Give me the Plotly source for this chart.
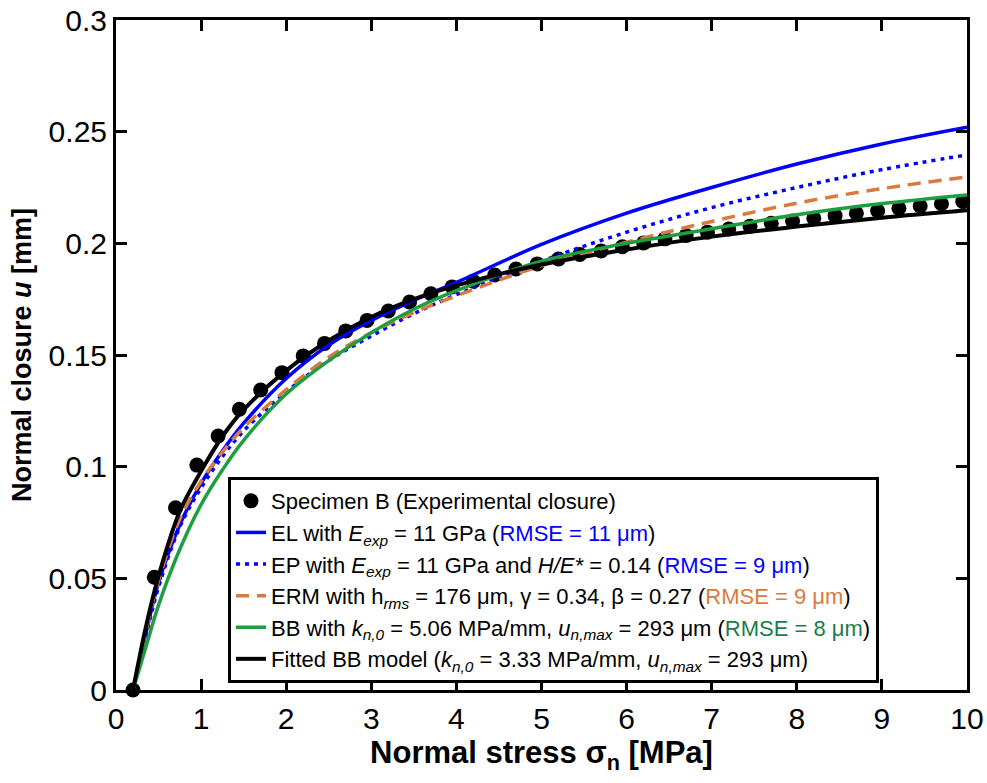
import plotly.graph_objects as go

# ---------------- data ----------------
stress_exp = [0.2, 0.45, 0.7, 0.95, 1.2, 1.45, 1.7, 1.95, 2.2, 2.45,
              2.7, 2.95, 3.2, 3.45, 3.7, 3.95, 4.2, 4.45, 4.7, 4.95,
              5.2, 5.45, 5.7, 5.95, 6.2, 6.45, 6.7, 6.95, 7.2, 7.45,
              7.7, 7.95, 8.2, 8.45, 8.7, 8.95, 9.2, 9.45, 9.7, 9.95]
closure_exp = [0.0, 0.0505, 0.0816, 0.1007, 0.1137, 0.1257, 0.1343, 0.1421, 0.1496, 0.1552,
               0.1608, 0.1655, 0.1697, 0.1737, 0.1774, 0.1805, 0.1830, 0.1858, 0.1885, 0.1908,
               0.1930, 0.1950, 0.1966, 0.1985, 0.2002, 0.2020, 0.2035, 0.2050, 0.2064, 0.2077,
               0.2090, 0.2100, 0.2112, 0.2124, 0.2135, 0.2146, 0.2157, 0.2167, 0.2177, 0.2187]

curve_stress = [0.2, 0.35, 0.5, 0.75, 1.0, 1.25, 1.5, 2.0, 2.5, 3.0, 3.5, 4.0,
                5.0, 6.0, 7.0, 8.0, 9.0, 10.0]
closure_el = [0.0, 0.025, 0.048, 0.0740, 0.0925, 0.1070, 0.1195, 0.1395, 0.1545, 0.1655,
              0.1745, 0.1825, 0.1995, 0.2135, 0.2250, 0.2355, 0.2445, 0.2520]
closure_ep = [0.0, 0.024, 0.046, 0.0730, 0.0905, 0.1045, 0.1160, 0.1335, 0.1475, 0.1585,
              0.1685, 0.1770, 0.1920, 0.2050, 0.2160, 0.2250, 0.2330, 0.2396]
closure_erm = [0.0, 0.026, 0.049, 0.0765, 0.0935, 0.1065, 0.1175, 0.1345, 0.1490, 0.1600,
               0.1690, 0.1765, 0.1900, 0.2005, 0.2098, 0.2180, 0.2245, 0.2297]
closure_bb = [0.0, 0.019, 0.038, 0.0630, 0.0830, 0.0985, 0.1118, 0.1325, 0.1475, 0.1600,
              0.1705, 0.1788, 0.1920, 0.2000, 0.2065, 0.2128, 0.2178, 0.2217]
closure_fit = [0.0, 0.028, 0.051, 0.0800, 0.0980, 0.1135, 0.1255, 0.1430, 0.1565, 0.1670,
               0.1750, 0.1812, 0.1905, 0.1972, 0.2030, 0.2075, 0.2115, 0.2148]

x_ticks = [0, 1, 2, 3, 4, 5, 6, 7, 8, 9, 10]
y_ticks = [0, 0.05, 0.1, 0.15, 0.2, 0.25, 0.3]
y_tick_labels = ["0", "0.05", "0.1", "0.15", "0.2", "0.25", "0.3"]

# ---------------- styling ----------------
BLUE = "#0000FF"
ORANGE = "#D97A40"
GREEN = "#1E9E3E"
GREEN_TXT = "#1A7D46"
FONT = "Liberation Sans, Arial, sans-serif"

names = [
    "Specimen B (Experimental closure)",
    f"EL with <i>E<sub>exp</sub></i> = 11 GPa (<span style='color:{BLUE}'>RMSE = 11 μm</span>)",
    f"EP with <i>E<sub>exp</sub></i> = 11 GPa and <i>H/E*</i> = 0.14 (<span style='color:{BLUE}'>RMSE = 9 μm</span>)",
    f"ERM with h<sub><i>rms</i></sub> = 176 μm, γ = 0.34, β = 0.27 (<span style='color:{ORANGE}'>RMSE = 9 μm</span>)",
    f"BB with <i>k<sub>n,0</sub></i> = 5.06 MPa/mm, <i>u<sub>n,max</sub></i> = 293 μm (<span style='color:{GREEN_TXT}'>RMSE = 8 μm</span>)",
    "Fitted BB model (<i>k<sub>n,0</sub></i> = 3.33 MPa/mm, <i>u<sub>n,max</sub></i> = 293 μm)",
]

fig = go.Figure()
fig.add_trace(go.Scatter(x=stress_exp, y=closure_exp, mode="markers", name=names[0],
                         marker=dict(color="black", size=15), cliponaxis=False))
fig.add_trace(go.Scatter(x=curve_stress, y=closure_el, mode="lines", name=names[1],
                         line=dict(color=BLUE, width=3.5, shape="spline")))
fig.add_trace(go.Scatter(x=curve_stress, y=closure_ep, mode="lines", name=names[2],
                         line=dict(color=BLUE, width=3.5, dash="4px,5px", shape="spline")))
fig.add_trace(go.Scatter(x=curve_stress, y=closure_erm, mode="lines", name=names[3],
                         line=dict(color=ORANGE, width=3.5, dash="13px,8px", shape="spline")))
fig.add_trace(go.Scatter(x=curve_stress, y=closure_bb, mode="lines", name=names[4],
                         line=dict(color=GREEN, width=3.5, shape="spline")))
fig.add_trace(go.Scatter(x=curve_stress, y=closure_fit, mode="lines", name=names[5],
                         line=dict(color="black", width=4, shape="spline")))

axis_common = dict(showline=True, linewidth=3, linecolor="black", mirror="ticks",
                   ticks="inside", ticklen=11, tickwidth=2.5, tickcolor="black",
                   showgrid=False, zeroline=False, automargin=False)

fig.update_layout(
    width=987, height=783,
    margin=dict(l=116, r=20, t=20, b=93),
    paper_bgcolor="white", plot_bgcolor="white",
    xaxis=dict(range=[0, 10], tickvals=x_ticks, ticklabeloverflow="allow",
               tickfont=dict(family=FONT, size=30, color="black"),
               title=dict(text="<b>Normal stress σ<sub>n</sub> [MPa]</b>",
                          font=dict(family=FONT, size=31, color="black"), standoff=4),
               **axis_common),
    yaxis=dict(range=[0, 0.3], tickvals=y_ticks, ticktext=y_tick_labels,
               tickfont=dict(family=FONT, size=30, color="black"),
               title=dict(text="<b>Normal closure <i>u</i> [mm]</b>",
                          font=dict(family=FONT, size=27, color="black"), standoff=10),
               **axis_common),
    legend=dict(x=0.1316, y=0.0104, xanchor="left", yanchor="bottom",
                bgcolor="white", bordercolor="black", borderwidth=3,
                font=dict(family=FONT, size=22, color="black"),
                tracegroupgap=0, itemwidth=30),
    showlegend=True,
)

fig.write_html("out.html")
